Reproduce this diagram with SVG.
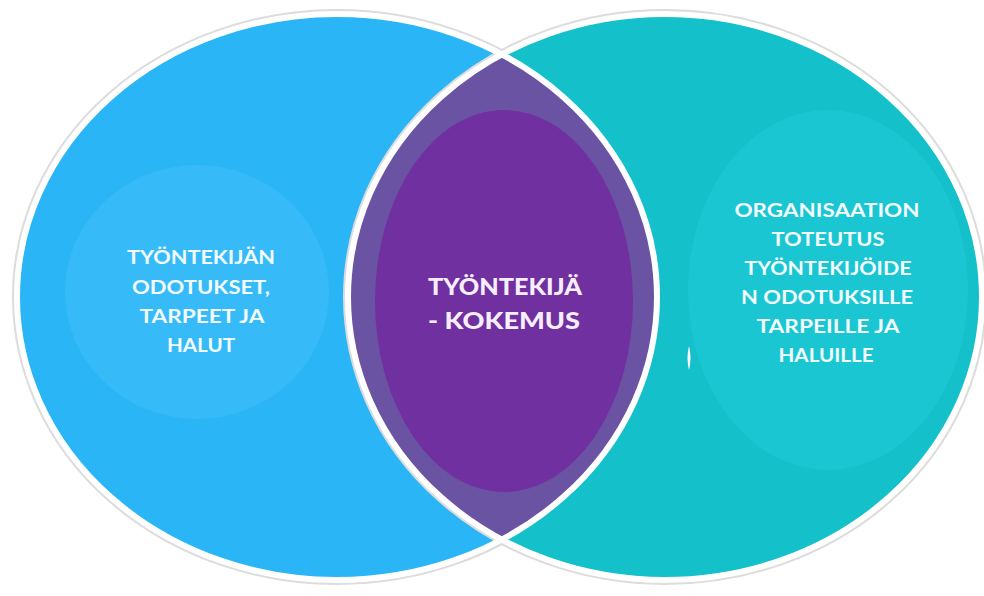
<svg xmlns="http://www.w3.org/2000/svg" width="984" height="596" viewBox="0 0 984 596">
<style>
.lbl{font-family:Lato,"Open Sans","Liberation Sans",sans-serif;font-weight:bold;fill:#f2fbff;text-anchor:middle;font-size:19.5px}
.ctr{font-family:Lato,"Open Sans","Liberation Sans",sans-serif;font-weight:900;fill:#f8eefe;text-anchor:middle;font-size:23px}
.edge{fill:none;stroke:#ffffff;stroke-width:6}
.halo{fill:none;stroke:#dcdcdc;stroke-width:10}
</style>
<defs>
<clipPath id="clipR"><ellipse cx="665" cy="297" rx="317" ry="283"/></clipPath>
</defs>
<rect width="984" height="596" fill="#ffffff"/>
<g id="left">
<ellipse class="halo" cx="337" cy="297" rx="320" ry="283"/>
<ellipse cx="337" cy="297" rx="320" ry="283" fill="#29b5f6"/>
<ellipse cx="197" cy="292" rx="132" ry="127" fill="#36bbf8"/>
<text class="lbl" x="201" y="264" textLength="148" lengthAdjust="spacingAndGlyphs">TYÖNTEKIJÄN</text>
<text class="lbl" x="201" y="294" textLength="138" lengthAdjust="spacingAndGlyphs">ODOTUKSET,</text>
<text class="lbl" x="202" y="323" textLength="125" lengthAdjust="spacingAndGlyphs">TARPEET JA</text>
<text class="lbl" x="201" y="352" textLength="68" lengthAdjust="spacingAndGlyphs">HALUT</text>
</g>
<g id="right">
<ellipse class="halo" cx="665" cy="297" rx="317" ry="283"/>
<ellipse cx="665" cy="297" rx="317" ry="283" fill="#14c0ca"/>
<ellipse cx="828" cy="290" rx="140" ry="180" fill="#1ac6d2"/>
<path d="M689 346 q-3 12 0 24 q3 -12 0 -24z" fill="#ffffff"/>
<text class="lbl" x="827" y="217" textLength="185" lengthAdjust="spacingAndGlyphs">ORGANISAATION</text>
<text class="lbl" x="828" y="246" textLength="113" lengthAdjust="spacingAndGlyphs">TOTEUTUS</text>
<text class="lbl" x="828" y="275" textLength="167" lengthAdjust="spacingAndGlyphs">TYÖNTEKIJÖIDE</text>
<text class="lbl" x="827" y="304" textLength="172" lengthAdjust="spacingAndGlyphs">N ODOTUKSILLE</text>
<text class="lbl" x="828" y="333" textLength="143" lengthAdjust="spacingAndGlyphs">TARPEILLE JA</text>
<text class="lbl" x="826" y="362" textLength="95" lengthAdjust="spacingAndGlyphs">HALUILLE</text>
</g>
<g id="lens">
<ellipse cx="337" cy="297" rx="320" ry="283" fill="#6b53a4" clip-path="url(#clipR)"/>
<ellipse cx="504" cy="301" rx="129" ry="191" fill="#7030a0"/>
<text class="ctr" x="505" y="295" textLength="154" lengthAdjust="spacingAndGlyphs">TYÖNTEKIJÄ</text>
<text class="ctr" x="504" y="329" textLength="152" lengthAdjust="spacingAndGlyphs">- KOKEMUS</text>
</g>
<g id="outlines">
<ellipse class="edge" cx="337" cy="297" rx="320" ry="283"/>
<ellipse class="edge" cx="665" cy="297" rx="317" ry="283"/>
</g>
</svg>
